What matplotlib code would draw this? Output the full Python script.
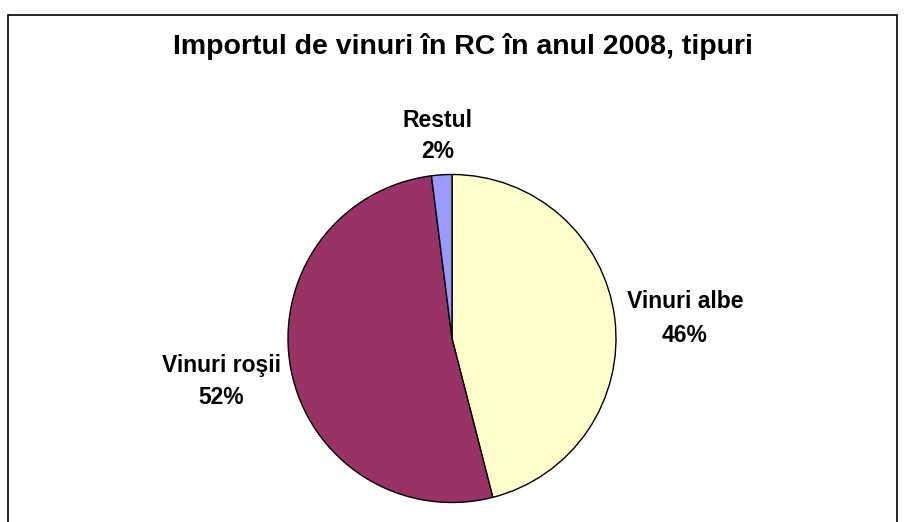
import matplotlib
matplotlib.use("Agg")
import matplotlib.pyplot as plt
from matplotlib.patches import Rectangle

categories = ["Vinuri albe", "Vinuri roşii", "Restul"]
values = [46, 52, 2]
pct_labels = ["46%", "52%", "2%"]
colors = ["#FFFFCC", "#993366", "#9999FF"]
title = "Importul de vinuri în RC în anul 2008, tipuri"

W, H = 906, 522
fig = plt.figure(figsize=(W / 100, H / 100), dpi=100)
fig.patch.set_facecolor("white")
ax = fig.add_axes([0, 0, 1, 1])

cx, cy, r = 452, H - 338.5, 164
wedges, _ = ax.pie(values, colors=colors, startangle=90, counterclock=False,
                   center=(cx, cy), radius=r,
                   wedgeprops=dict(edgecolor="black", linewidth=1.0))
ax.set_xlim(0, W)
ax.set_ylim(0, H)
ax.set_aspect("auto")
ax.axis("off")

font = "Liberation Sans"
# (x center, first-line baseline, second-line baseline) in pixels from top
label_pos = [(685, 307.7, 341.7), (221.5, 371.7, 403.5), (438, 126.7, 158.3)]
for cat, pct, (x, y1, y2) in zip(categories, pct_labels, label_pos):
    ax.text(x, H - y1, cat, ha="center", va="baseline", fontsize=16.5,
            fontweight="bold", family=font)
    ax.text(x, H - y2, pct, ha="center", va="baseline", fontsize=16.5,
            fontweight="bold", family=font)

ax.text(463, H - 54, title, ha="center", va="baseline", fontsize=20.5,
        fontweight="bold", family=font)

fig.patches.append(Rectangle((8 / W, -0.1), (897 - 8) / W, (H - 15) / H + 0.1,
                             transform=fig.transFigure, fill=False,
                             edgecolor="black", linewidth=1.2))

fig.savefig("out.png", dpi=100)
